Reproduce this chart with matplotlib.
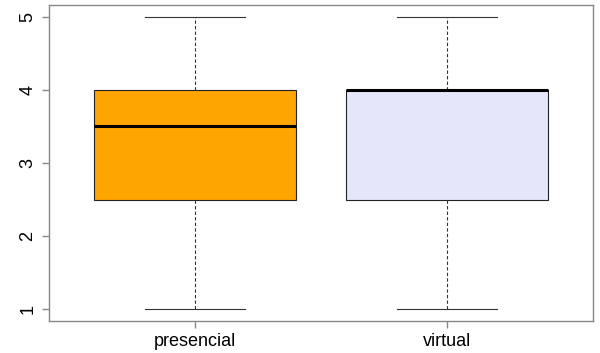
import matplotlib.pyplot as plt

plt.rcParams['font.family'] = ['Liberation Sans', 'DejaVu Sans']

groups = ['presencial', 'virtual']
mins = [1, 1]
q1s = [2.5, 2.5]
medians = [3.5, 4]
q3s = [4, 4]
maxs = [5, 5]
colors = ['#FFA500', '#E6E6FA']

stats = []
for g, lo, a, m, b, hi in zip(groups, mins, q1s, medians, q3s, maxs):
    stats.append({'label': g, 'whislo': lo, 'q1': a, 'med': m, 'q3': b, 'whishi': hi, 'fliers': []})

fig = plt.figure(figsize=(6, 3.53), dpi=100)
ax = fig.add_axes([49 / 600, 32 / 353, 544 / 600, 316 / 353])

bp = ax.bxp(stats, positions=[1, 2], widths=0.8, patch_artist=True, showfliers=False,
            boxprops=dict(edgecolor='#222222', linewidth=0.8),
            medianprops=dict(color='black', linewidth=2.2),
            whiskerprops=dict(color='#333333', linewidth=0.8, linestyle=(0, (3, 2))),
            capprops=dict(color='#333333', linewidth=0.8),
            capwidths=0.4)
for patch, c in zip(bp['boxes'], colors):
    patch.set_facecolor(c)

ax.set_xlim(0.42, 2.58)
ax.set_ylim(0.84, 5.16)
ax.set_yticks([1, 2, 3, 4, 5])
ax.set_xticks([1, 2])
ax.set_xticklabels(groups)
for s in ax.spines.values():
    s.set_color('#888888')
    s.set_linewidth(1)
ax.tick_params(axis='both', colors='#888888', length=5, width=1, labelcolor='black', labelsize=13)
ax.tick_params(axis='y', pad=4)
for lbl in ax.get_yticklabels():
    lbl.set_rotation(90)
    lbl.set_va('center')

fig.savefig('out.png', dpi=100)
